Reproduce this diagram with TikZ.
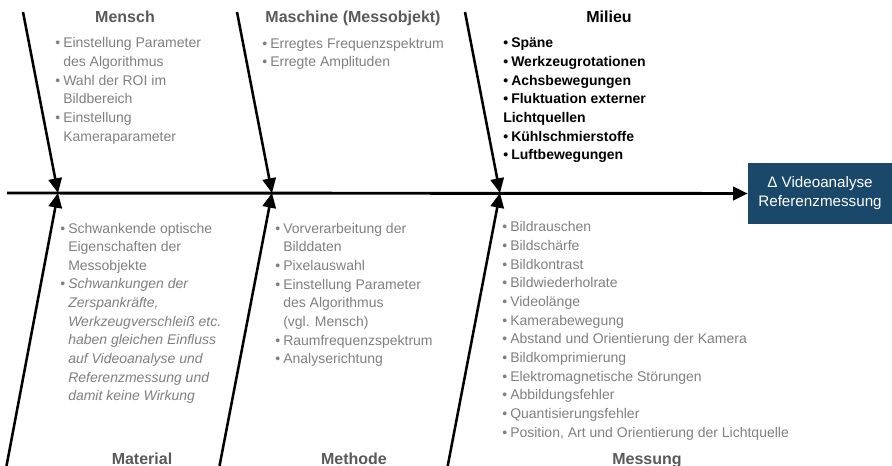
\documentclass[tikz,border=0pt]{standalone}
\usepackage{fontspec}
\setmainfont{Liberation Sans}
\usetikzlibrary{arrows.meta}
\definecolor{itemgray}{RGB}{127,127,127}
\definecolor{titlegray}{RGB}{89,89,89}
\definecolor{boxblue}{RGB}{26,72,106}
\newcommand{\bul}{\makebox[6pt][l]{\textbullet}}
\newcommand{\ind}{\hspace*{6pt}}
\begin{document}
\begin{tikzpicture}[x=0.75pt,y=-0.75pt,
    rib/.style={line width=1.9pt,-{Triangle[length=11pt,width=10pt]}},
    spine/.style={line width=2.2pt,-{Triangle[length=11pt,width=10pt]}},
    cat/.style={font=\fontsize{12}{14}\selectfont\bfseries,text=titlegray,inner sep=0pt,anchor=base},
    items/.style={font=\fontsize{10.5}{14}\selectfont,text=itemgray,align=left,inner sep=0pt,anchor=base west}]
    \useasboundingbox (0,0) rectangle (892,466);
    \node[fill=boxblue,text=white,font=\fontsize{11.4}{14.25}\selectfont,align=center,
        minimum width=108pt,minimum height=45.75pt,inner sep=0pt] (result) at (820,193.5)
        {Δ Videoanalyse\\Referenzmessung};
    \coordinate (start) at (7,193);
    \coordinate (jMensch) at (58,193);
    \coordinate (jMaschine) at (272,193);
    \coordinate (jMilieu) at (500,193);
    \coordinate (tMensch) at (23,12);
    \coordinate (tMaschine) at (237,12);
    \coordinate (tMilieu) at (465,12);
    \coordinate (tMaterial) at (6.5,466);
    \coordinate (tMethode) at (219.5,466);
    \coordinate (tMessung) at (447.7,466);
    \draw[spine] (start) -- (result.west);
    \draw[rib] (tMensch) -- (jMensch);
    \draw[rib] (tMaschine) -- (jMaschine);
    \draw[rib] (tMilieu) -- (jMilieu);
    \draw[rib] (tMaterial) -- (jMensch);
    \draw[rib] (tMethode) -- (jMaschine);
    \draw[rib] (tMessung) -- (jMilieu);
    \node[cat] (mensch) at (125,23) {Mensch};
    \node[cat] (maschine) at (353,23) {Maschine (Messobjekt)};
    \node[cat,text=black] (milieu) at (609,23) {Milieu};
    \node[cat] (material) at (142,464) {Material};
    \node[cat] (methode) at (354,464) {Methode};
    \node[cat] (messung) at (647,464) {Messung};
    \node[items] (lMensch) at (55,141.3) {\bul Einstellung Parameter\\ \ind des Algorithmus\\ \bul Wahl der ROI im\\ \ind Bildbereich\\ \bul Einstellung\\ \ind Kameraparameter};
    \node[items] (lMaschine) at (262,66.7) {\bul Erregtes Frequenzspektrum\\ \bul Erregte Amplituden};
    \node[items,text=black,font=\fontsize{10.5}{14}\selectfont\bfseries] (lMilieu) at (503,160)
        {\bul Späne\\ \bul Werkzeugrotationen\\ \bul Achsbewegungen\\ \bul Fluktuation externer\\ Lichtquellen\\ \bul Kühlschmierstoffe\\ \bul Luftbewegungen};
    \node[items] (lMaterial) at (60,401) {\bul Schwankende optische\\ \ind Eigenschaften der\\ \ind Messobjekte\\
        \bul{\itshape Schwankungen der}\\ \ind{\itshape Zerspankräfte,}\\ \ind{\itshape Werkzeugverschleiß etc.}\\
        \ind{\itshape haben gleichen Einfluss}\\ \ind{\itshape auf Videoanalyse und}\\ \ind{\itshape Referenzmessung und}\\
        \ind{\itshape damit keine Wirkung}};
    \node[items] (lMethode) at (275,363.7) {\bul Vorverarbeitung der\\ \ind Bilddaten\\ \bul Pixelauswahl\\
        \bul Einstellung Parameter\\ \ind des Algorithmus\\ \ind (vgl. Mensch)\\ \bul Raumfrequenzspektrum\\ \bul Analyserichtung};
    \node[items] (lMessung) at (502,437.3) {\bul Bildrauschen\\ \bul Bildschärfe\\ \bul Bildkontrast\\ \bul Bildwiederholrate\\
        \bul Videolänge\\ \bul Kamerabewegung\\ \bul Abstand und Orientierung der Kamera\\ \bul Bildkomprimierung\\
        \bul Elektromagnetische Störungen\\ \bul Abbildungsfehler\\ \bul Quantisierungsfehler\\
        \bul Position, Art und Orientierung der Lichtquelle};
\end{tikzpicture}
\end{document}
